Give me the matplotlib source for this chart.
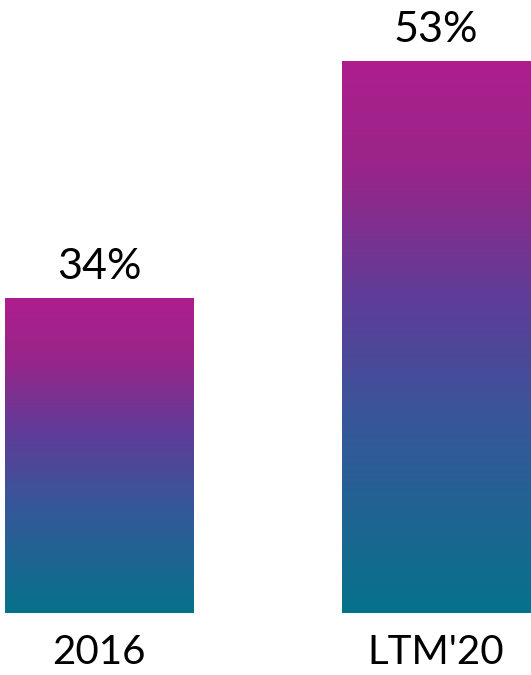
import numpy as np
import matplotlib.pyplot as plt
from matplotlib.colors import LinearSegmentedColormap

categories = ["2016", "LTM'20"]
values = [34, 53]
value_labels = ["34%", "53%"]

plt.rcParams['font.family'] = ['Lato', 'DejaVu Sans']

# gradient from teal (bottom) through purple to magenta (top)
cmap = LinearSegmentedColormap.from_list(
    "grad", [(0.0, "#06728A"), (0.33, "#35589A"), (0.57, "#5E3D98"),
             (0.8, "#972689"), (1.0, "#AE1E8C")])

fig = plt.figure(figsize=(5.31, 6.75), dpi=100)
ax = fig.add_axes([0, 62 / 675, 1, 1 - 62 / 675])

x = np.arange(len(categories))
bars = ax.bar(x, values, width=0.558, color='none', edgecolor='none')
ax.set_xlim(-0.294, 1.282)
ax.set_ylim(8.75, 57.9)

# fill each bar with its own vertical gradient
grad = np.linspace(0, 1, 256).reshape(-1, 1)
for bar in bars:
    x0, w, h = bar.get_x(), bar.get_width(), bar.get_height()
    im = ax.imshow(grad, cmap=cmap, origin='lower', aspect='auto',
                   extent=[x0, x0 + w, 8.75, h], zorder=2)
    im.set_clip_path(bar)

for xi, v, lab in zip(x, values, value_labels):
    ax.annotate(lab, (xi, v), xytext=(0, 14), textcoords='offset points',
                ha='center', va='baseline', fontsize=31)

ax.set_xticks(x)
ax.set_xticklabels(categories, fontsize=29)
ax.tick_params(axis='x', length=0, pad=15)
ax.set_yticks([])
for s in ax.spines.values():
    s.set_visible(False)

fig.savefig("out.png", dpi=100)
